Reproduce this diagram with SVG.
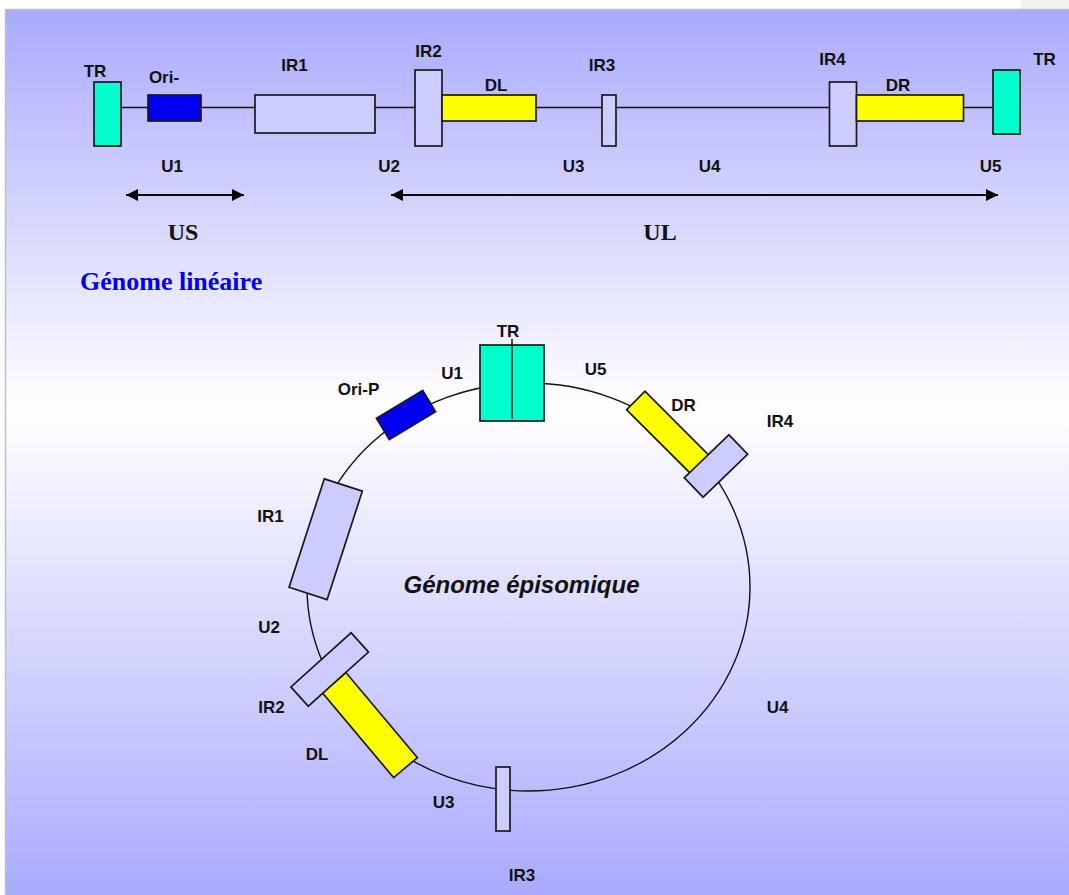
<svg xmlns="http://www.w3.org/2000/svg" width="1069" height="895" viewBox="0 0 1069 895">
  <defs>
    <linearGradient id="bg" x1="0" y1="10" x2="0" y2="895" gradientUnits="userSpaceOnUse">
      <stop offset="0" stop-color="#aaaaff"/>
      <stop offset="0.45" stop-color="#ffffff"/>
      <stop offset="1" stop-color="#aaaaff"/>
    </linearGradient>
    <marker id="head" viewBox="0 0 12 12" refX="12" refY="6" markerWidth="12" markerHeight="12" markerUnits="userSpaceOnUse" orient="auto-start-reverse">
      <path d="M0,0 L12,6 L0,12 z" fill="#000"/>
    </marker>
    <style>
      .box { stroke: #1a1a1a; stroke-width: 1.7; }
      .tr { fill: #00ffcc; }
      .ori { fill: #0000ee; }
      .ir { fill: #ccccff; }
      .rep { fill: #ffff00; }
      .lbl { font-family: "Liberation Sans", Arial, sans-serif; font-weight: bold; font-size: 17px; fill: #111; text-anchor: middle; }
      .big { font-family: "Liberation Serif", "Times New Roman", serif; font-weight: bold; font-size: 24px; fill: #111; text-anchor: middle; }
      .wire { stroke: #111; stroke-width: 1.4; fill: none; }
      .arrow { stroke: #000; stroke-width: 2; fill: none; }
    </style>
  </defs>

  <!-- page frame -->
  <rect x="0" y="0" width="1069" height="895" fill="#ffffff"/>
  <rect x="1021" y="0" width="48" height="9" fill="#f0f0f0"/>
  <rect x="6" y="10" width="1063" height="885" fill="url(#bg)"/>
  <line x1="5" y1="9.5" x2="1069" y2="9.5" stroke="#c0c0c0" stroke-width="1.5"/>
  <line x1="5.5" y1="9" x2="5.5" y2="895" stroke="#c0c0c0" stroke-width="1.5"/>

  <!-- connectors: backbone, episome ring, span arrows -->
  <g id="connectors">
    <line class="wire" x1="121" y1="107.5" x2="993" y2="107.5"/>
    <ellipse class="wire" cx="528.5" cy="587" rx="221.5" ry="204"/>
    <line class="arrow" x1="126" y1="195" x2="244" y2="195" marker-start="url(#head)" marker-end="url(#head)"/>
    <line class="arrow" x1="391" y1="195" x2="998" y2="195" marker-start="url(#head)" marker-end="url(#head)"/>
  </g>

  <!-- linear genome -->
  <g id="lin-tr-left"><rect class="box tr" x="94" y="82" width="27" height="64"/><text class="lbl" x="95" y="77">TR</text></g>
  <g id="lin-ori"><rect class="box ori" x="148" y="95" width="53" height="26"/><text class="lbl" x="164" y="83">Ori-</text></g>
  <g id="lin-ir1"><rect class="box ir" x="255" y="95" width="120" height="38"/><text class="lbl" x="294.5" y="71">IR1</text></g>
  <g id="lin-ir2"><rect class="box ir" x="415" y="70" width="27" height="76"/><text class="lbl" x="428.5" y="57">IR2</text></g>
  <g id="lin-dl"><rect class="box rep" x="442" y="95" width="94" height="26"/><text class="lbl" x="496" y="91">DL</text></g>
  <g id="lin-ir3"><rect class="box ir" x="602" y="95" width="14" height="51"/><text class="lbl" x="602" y="71">IR3</text></g>
  <g id="lin-ir4"><rect class="box ir" x="829.5" y="82" width="27" height="64"/><text class="lbl" x="832.5" y="65">IR4</text></g>
  <g id="lin-dr"><rect class="box rep" x="856.5" y="95" width="107" height="26"/><text class="lbl" x="898" y="91">DR</text></g>
  <g id="lin-tr-right"><rect class="box tr" x="993" y="70" width="27" height="64"/><text class="lbl" x="1044.5" y="65">TR</text></g>

  <g id="lin-unique">
    <text class="lbl" x="172" y="172">U1</text>
    <text class="lbl" x="389" y="172">U2</text>
    <text class="lbl" x="573.5" y="172">U3</text>
    <text class="lbl" x="709.5" y="172">U4</text>
    <text class="lbl" x="990.5" y="172">U5</text>
    <text class="big" x="183" y="240">US</text>
    <text class="big" x="660" y="240">UL</text>
  </g>
  <text id="title-linear" x="80" y="290" font-family="Liberation Serif, 'Times New Roman', serif" font-weight="bold" font-size="26" fill="#0000ee">Génome linéaire</text>

  <!-- episomal genome -->
  <g id="epi-tr">
    <rect class="box tr" x="480" y="345" width="64" height="76"/>
    <line x1="512" y1="339" x2="512" y2="419" stroke="#111" stroke-width="1.5"/>
    <text class="lbl" x="508" y="337">TR</text>
  </g>
  <g id="epi-ori">
    <rect class="box ori" x="-27" y="-12.5" width="54" height="25" transform="translate(406 415) rotate(-31)"/>
    <text class="lbl" x="358.5" y="395">Ori-P</text>
  </g>
  <g id="epi-dr">
    <rect class="box rep" x="-45" y="-13" width="90" height="26" transform="translate(667.6 432.3) rotate(45)"/>
    <text class="lbl" x="683.5" y="411">DR</text>
  </g>
  <g id="epi-ir4">
    <rect class="box ir" x="-31" y="-13.5" width="62" height="27" transform="translate(716 466) rotate(-44)"/>
    <text class="lbl" x="780" y="427">IR4</text>
  </g>
  <g id="epi-ir1">
    <rect class="box ir" x="-20" y="-57" width="40" height="114" transform="translate(325.7 539.2) rotate(18)"/>
    <text class="lbl" x="270.5" y="522">IR1</text>
  </g>
  <g id="epi-dl">
    <rect class="box rep" x="-55.5" y="-15.5" width="111" height="31" transform="translate(369.8 725.1) rotate(50)"/>
    <text class="lbl" x="317" y="760">DL</text>
  </g>
  <g id="epi-ir2">
    <rect class="box ir" x="-40.5" y="-13" width="81" height="26" transform="translate(329.7 669.5) rotate(-42)"/>
    <text class="lbl" x="271.5" y="713">IR2</text>
  </g>
  <g id="epi-ir3">
    <rect class="box ir" x="496" y="767" width="14" height="64"/>
    <text class="lbl" x="522" y="881">IR3</text>
  </g>
  <g id="epi-unique">
    <text class="lbl" x="452" y="379">U1</text>
    <text class="lbl" x="595.5" y="375">U5</text>
    <text class="lbl" x="269" y="633">U2</text>
    <text class="lbl" x="443.5" y="808">U3</text>
    <text class="lbl" x="777.5" y="713">U4</text>
  </g>
  <text id="title-episome" x="521.5" y="593" font-family="Liberation Sans, Arial, sans-serif" font-weight="bold" font-style="italic" font-size="24" fill="#111" text-anchor="middle">Génome épisomique</text>
</svg>
